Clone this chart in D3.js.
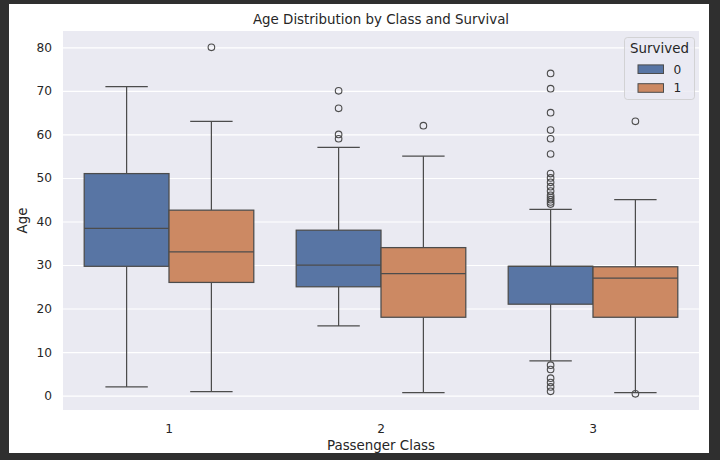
<!DOCTYPE html>
<html>
<head>
<meta charset="utf-8">
<script src="https://cdn.jsdelivr.net/npm/d3@7"></script>
<style>
  html, body { margin: 0; padding: 0; background: #2f2f2f; }
  svg { display: block; }
</style>
</head>
<body>
<svg id="chart" width="720" height="460"></svg>
<script>
// ---- data ----
const classes = ["1", "2", "3"];
const survivedLevels = ["0", "1"];
const yTicks = [0, 10, 20, 30, 40, 50, 60, 70, 80];

// box statistics per class, for Survived = 0
const q1_s0      = [29.7, 25, 21];
const median_s0  = [38.4, 30, 29.7];
const q3_s0      = [51, 38, 29.7];
const whLow_s0   = [2, 16, 8];
const whHigh_s0  = [71, 57, 42.8];
const fliers_s0  = [
  [],
  [70, 66, 60, 59],
  [74, 70.5, 65, 61, 59, 55.5, 51, 50, 49, 48, 47, 46, 45.5, 45, 44.5, 44, 7, 6, 4, 3, 2, 1]
];

// box statistics per class, for Survived = 1
const q1_s1      = [26, 18, 18];
const median_s1  = [33, 28, 27];
const q3_s1      = [42.6, 34, 29.6];
const whLow_s1   = [0.92, 0.67, 0.67];
const whHigh_s1  = [63, 55, 45];
const fliers_s1  = [
  [80],
  [62],
  [63, 0.42]
];

// ---- layout ----
const W = 720, H = 460;
const plot = { left: 63, right: 699, top: 31, bottom: 410 };
const colors = { "0": "#5875A4", "1": "#CC8963" };
const lineColor = "#4c4c4c";
const textColor = "#262626";
const font = "'DejaVu Sans', Verdana, sans-serif";

const svg = d3.select("#chart");

// white figure area inside the dark frame
svg.append("rect").attr("x", 9).attr("y", 4).attr("width", 700).attr("height", 449).attr("fill", "#ffffff");

// scales
const x = d3.scaleBand().domain(classes).range([plot.left, plot.right]).padding(0);
const hueScale = d3.scaleBand().domain(survivedLevels).range([0, x.bandwidth() * 0.8]).padding(0);
const y = d3.scaleLinear().domain([-3.3, 83.75]).range([plot.bottom, plot.top]);

// plot background
svg.append("rect")
  .attr("x", plot.left).attr("y", plot.top)
  .attr("width", plot.right - plot.left).attr("height", plot.bottom - plot.top)
  .attr("fill", "#EAEAF2");

// grid lines
const yAxis = d3.axisLeft(y).tickValues(yTicks).tickSize(-(plot.right - plot.left)).tickPadding(11).tickFormat(d3.format("d"));
const gy = svg.append("g").attr("transform", `translate(${plot.left},0)`).call(yAxis);
gy.select(".domain").remove();
gy.selectAll(".tick line").attr("stroke", "#ffffff").attr("stroke-width", 1.1);
gy.selectAll(".tick text")
  .attr("fill", textColor).attr("font-family", font).attr("font-size", "12.2px");

const xAxis = d3.axisBottom(x).tickSize(0).tickPadding(14);
const gx = svg.append("g").attr("transform", `translate(0,${plot.bottom})`).call(xAxis);
gx.select(".domain").remove();
gx.selectAll(".tick text")
  .attr("fill", textColor).attr("font-family", font).attr("font-size", "12.2px");

// build box records
const boxes = [];
classes.forEach((c, i) => {
  boxes.push({ cls: c, hue: "0", q1: q1_s0[i], med: median_s0[i], q3: q3_s0[i], lo: whLow_s0[i], hi: whHigh_s0[i], fliers: fliers_s0[i] });
  boxes.push({ cls: c, hue: "1", q1: q1_s1[i], med: median_s1[i], q3: q3_s1[i], lo: whLow_s1[i], hi: whHigh_s1[i], fliers: fliers_s1[i] });
});

const g = svg.append("g");
boxes.forEach(b => {
  const x0 = x(b.cls) + x.bandwidth() * 0.1 + hueScale(b.hue);
  const bw = hueScale.bandwidth();
  const cx = x0 + bw / 2;
  const capHalf = bw / 4;
  const bg = g.append("g");
  // whiskers
  bg.append("line").attr("x1", cx).attr("x2", cx).attr("y1", y(b.q3)).attr("y2", y(b.hi))
    .attr("stroke", lineColor).attr("stroke-width", 1.25);
  bg.append("line").attr("x1", cx).attr("x2", cx).attr("y1", y(b.q1)).attr("y2", y(b.lo))
    .attr("stroke", lineColor).attr("stroke-width", 1.25);
  // caps
  [b.hi, b.lo].forEach(v => {
    bg.append("line").attr("x1", cx - capHalf).attr("x2", cx + capHalf).attr("y1", y(v)).attr("y2", y(v))
      .attr("stroke", lineColor).attr("stroke-width", 1.25);
  });
  // box
  bg.append("rect").attr("x", x0).attr("y", y(b.q3)).attr("width", bw).attr("height", y(b.q1) - y(b.q3))
    .attr("fill", colors[b.hue]).attr("stroke", lineColor).attr("stroke-width", 1.25);
  // median
  bg.append("line").attr("x1", x0).attr("x2", x0 + bw).attr("y1", y(b.med)).attr("y2", y(b.med))
    .attr("stroke", lineColor).attr("stroke-width", 1.25);
  // fliers
  bg.selectAll("circle.flier").data(b.fliers).enter().append("circle")
    .attr("class", "flier")
    .attr("cx", cx).attr("cy", d => y(d)).attr("r", 3.3)
    .attr("fill", "none").attr("stroke", lineColor).attr("stroke-width", 1.1);
});

// title
svg.append("text").attr("x", (plot.left + plot.right) / 2).attr("y", 24)
  .attr("text-anchor", "middle").attr("fill", textColor)
  .attr("font-family", font).attr("font-size", "13.4px")
  .text("Age Distribution by Class and Survival");

// axis labels
svg.append("text").attr("x", (plot.left + plot.right) / 2).attr("y", 450)
  .attr("text-anchor", "middle").attr("fill", textColor)
  .attr("font-family", font).attr("font-size", "13.4px")
  .text("Passenger Class");
svg.append("text")
  .attr("transform", `translate(27,${(plot.top + plot.bottom) / 2}) rotate(-90)`)
  .attr("text-anchor", "middle").attr("fill", textColor)
  .attr("font-family", font).attr("font-size", "13.4px")
  .text("Age");

// legend
const lg = svg.append("g");
lg.append("rect").attr("x", 624.5).attr("y", 37.5).attr("width", 70).attr("height", 62).attr("rx", 3)
  .attr("fill", "#EAEAF2").attr("fill-opacity", 0.8).attr("stroke", "#cccccc").attr("stroke-opacity", 0.8);
lg.append("text").attr("x", 659.5).attr("y", 53).attr("text-anchor", "middle")
  .attr("fill", textColor).attr("font-family", font).attr("font-size", "13.4px").text("Survived");
survivedLevels.forEach((s, i) => {
  const yy = 64.9 + i * 18.8;
  lg.append("rect").attr("x", 638).attr("y", yy).attr("width", 25.5).attr("height", 8.6)
    .attr("fill", colors[s]).attr("stroke", lineColor).attr("stroke-width", 1);
  lg.append("text").attr("x", 673.5).attr("y", yy + 8.6).attr("fill", textColor)
    .attr("font-family", font).attr("font-size", "12.2px").text(s);
});
</script>
</body>
</html>
